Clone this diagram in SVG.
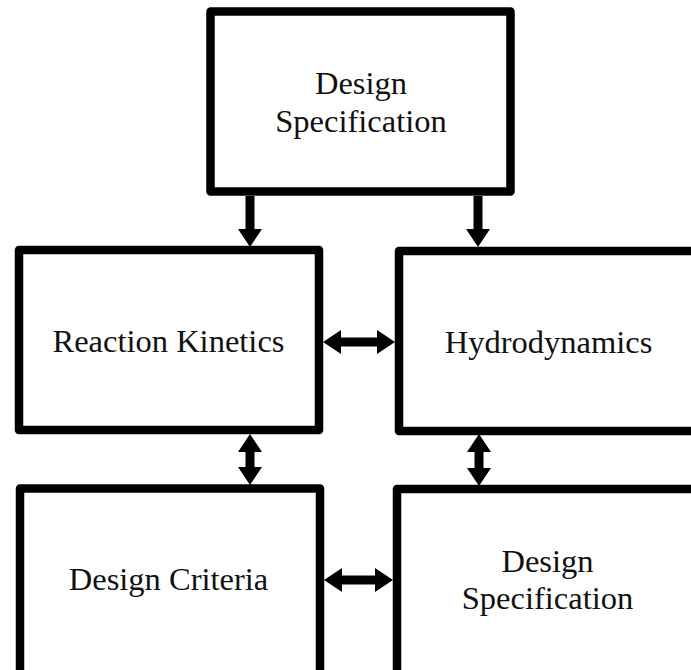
<svg xmlns="http://www.w3.org/2000/svg" width="691" height="670" viewBox="0 0 691 670">
<style>
.box{fill:#fff;stroke:#000;stroke-width:8.5;stroke-linejoin:round}
.lbl{font-family:"Liberation Serif","Times New Roman",serif;font-size:32.5px;fill:#111;text-anchor:middle}
.conn{stroke:#000;stroke-width:9;fill:none}
</style>
<defs>
<marker id="ah" markerUnits="userSpaceOnUse" markerWidth="18" markerHeight="24" refX="0" refY="12" orient="auto-start-reverse" viewBox="0 0 18 24">
<path d="M0,0 L18,12 L0,24 z" fill="#000"/>
</marker>
</defs>
<rect width="691" height="670" fill="#fff"/>
<g id="connectors">
<line class="conn" x1="250" y1="196" x2="250" y2="229" marker-end="url(#ah)"/>
<line class="conn" x1="478" y1="196" x2="478" y2="229" marker-end="url(#ah)"/>
<line class="conn" x1="341" y1="342" x2="377" y2="342" marker-start="url(#ah)" marker-end="url(#ah)"/>
<line class="conn" x1="250" y1="452" x2="250" y2="467" marker-start="url(#ah)" marker-end="url(#ah)"/>
<line class="conn" x1="479" y1="452" x2="479" y2="468" marker-start="url(#ah)" marker-end="url(#ah)"/>
<line class="conn" x1="342" y1="580" x2="375" y2="580" marker-start="url(#ah)" marker-end="url(#ah)"/>
</g>
<g id="node-top">
<rect class="box" x="210.5" y="11.5" width="300" height="180"/>
<text class="lbl" x="361" y="94">Design</text>
<text class="lbl" x="361" y="132">Specification</text>
</g>
<g id="node-reaction">
<rect class="box" x="19" y="250" width="300" height="180"/>
<text class="lbl" x="168.5" y="352">Reaction Kinetics</text>
</g>
<g id="node-hydro">
<rect class="box" x="399" y="251" width="300" height="180"/>
<text class="lbl" x="548.5" y="353">Hydrodynamics</text>
</g>
<g id="node-criteria">
<rect class="box" x="20" y="488.5" width="300" height="200"/>
<text class="lbl" x="168.5" y="590">Design Criteria</text>
</g>
<g id="node-spec2">
<rect class="box" x="397" y="489" width="300" height="200"/>
<text class="lbl" x="547.5" y="572">Design</text>
<text class="lbl" x="547.5" y="609">Specification</text>
</g>
</svg>
